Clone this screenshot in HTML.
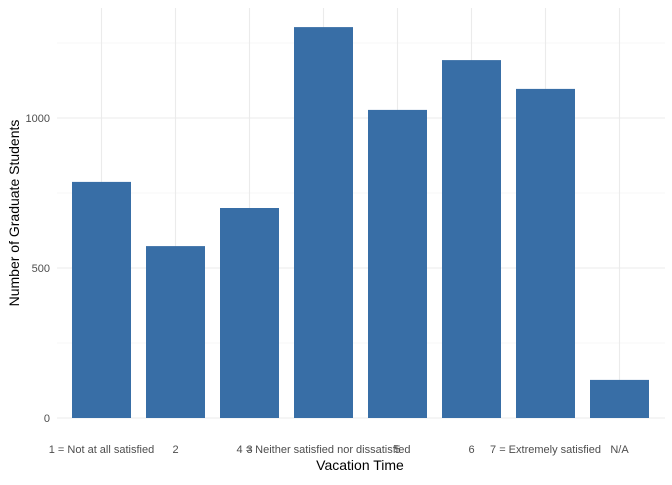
<!DOCTYPE html>
<html><head><meta charset="utf-8"><style>
body{margin:0;background:#fff;font-family:"Liberation Sans",Arial,sans-serif}
svg text{font-family:"Liberation Sans",Arial,sans-serif}
</style></head><body>
<svg id="chart" width="672" height="480" xmlns="http://www.w3.org/2000/svg">
<g id="grid"></g>
<g id="bars"></g>
<g id="axes"></g>
<text x="360" y="470" text-anchor="middle" font-size="14" fill="#000">Vacation Time</text>
<text transform="translate(19,213) rotate(-90)" text-anchor="middle" font-size="14" fill="#000">Number of Graduate Students</text>
</svg>
<script>
const categories=["1 = Not at all satisfied","2","3","4 = Neither satisfied nor dissatisfied","5","6","7 = Extremely satisfied","N/A"];
const values=[787,573,700,1303,1027,1193,1097,127];
const yTicks=[0,500,1000];
const yMinor=[250,750,1250];
const NS="http://www.w3.org/2000/svg";
const pLeft=57,pRight=665,panelTop=8,y0=418,scale=0.3;
const yS=v=>y0-v*scale;
const step=74,first=101.5,bw=59;
const xS=i=>first+i*step;
function mk(tag,attrs,parent){const e=document.createElementNS(NS,tag);for(const k in attrs)e.setAttribute(k,attrs[k]);parent.appendChild(e);return e;}
const grid=document.getElementById('grid'),bars=document.getElementById('bars'),axes=document.getElementById('axes');
yMinor.forEach(v=>{const l=mk('line',{x1:pLeft,x2:pRight,y1:yS(v),y2:yS(v),stroke:'#f0f0f0','stroke-width':0.6},grid);

});
yTicks.forEach(v=>{const l=mk('line',{x1:pLeft,x2:pRight,y1:yS(v),y2:yS(v),stroke:'#ebebeb','stroke-width':1.1},grid);


const t=mk('text',{x:50,y:yS(v)+4,'text-anchor':'end','font-size':11,fill:'#4d4d4d'},axes);t.textContent=v;

});
categories.forEach((c,i)=>{const l=mk('line',{x1:xS(i),x2:xS(i),y1:panelTop,y2:y0,stroke:'#ebebeb','stroke-width':1.1},grid);

});
values.forEach((v,i)=>{const r=mk('rect',{x:xS(i)-bw/2,y:yS(v),width:bw,height:v*scale,fill:'#386ea6'},bars);

});
categories.forEach((c,i)=>{const t=mk('text',{x:xS(i),y:453,'text-anchor':'middle','font-size':11,fill:'#4d4d4d'},axes);t.textContent=c;

});
</script>
</body></html>
